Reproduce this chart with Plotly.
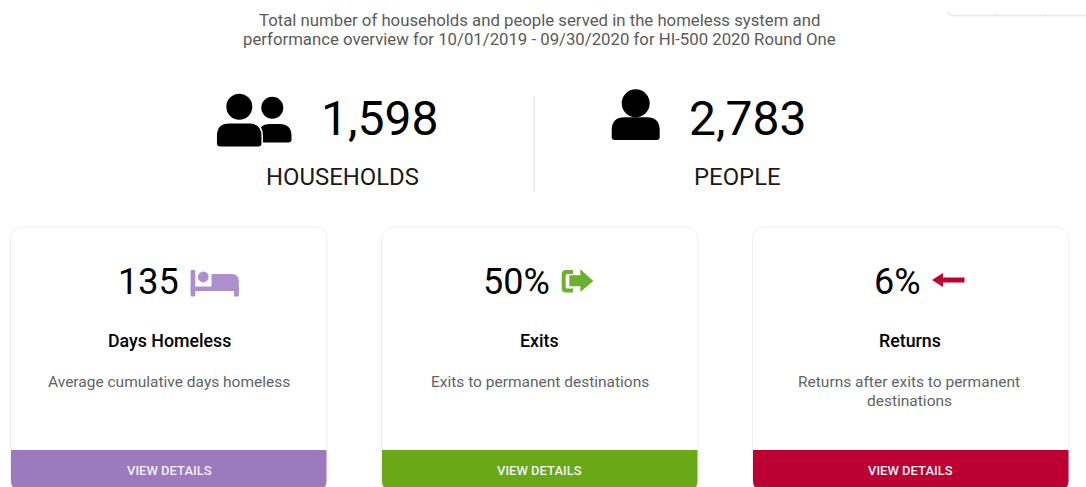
import plotly.graph_objects as go

W, H = 1086, 487
FONT = "Roboto"

subtitle_lines = [
    "Total number of households and people served in the homeless system and",
    "performance overview for 10/01/2019 - 09/30/2020 for HI-500 2020 Round One",
]
totals_values = ["1,598", "2,783"]
totals_labels = ["HOUSEHOLDS", "PEOPLE"]
card_values = ["135", "50%", "6%"]
card_titles = ["Days Homeless", "Exits", "Returns"]
card_descriptions = [
    ["Average cumulative days homeless"],
    ["Exits to permanent destinations"],
    ["Returns after exits to permanent", "destinations"],
]
card_colors = ["#9C7ABD", "#69A917", "#BD0032"]
icon_colors = ["#AC8FCC", "#6DB02F", "#BD0032"]
button_label = "VIEW DETAILS"


def rrect(x0, y0, x1, y1, tl=0, tr=0, br=0, bl=0):
    return (
        f"M{x0 + tl},{y0} L{x1 - tr},{y0} Q{x1},{y0} {x1},{y0 + tr} "
        f"L{x1},{y1 - br} Q{x1},{y1} {x1 - br},{y1} "
        f"L{x0 + bl},{y1} Q{x0},{y1} {x0},{y1 - bl} "
        f"L{x0},{y0 + tl} Q{x0},{y0} {x0 + tl},{y0} Z"
    )


shapes = []


def fill_path(p, color, line=None, lw=0):
    shapes.append(dict(type="path", path=p, fillcolor=color, xref="x", yref="y",
                       line=dict(color=line or color, width=lw)))


def disc(cx, cy, r, color):
    shapes.append(dict(type="circle", x0=cx - r, x1=cx + r, y0=cy - r, y1=cy + r,
                       fillcolor=color, line=dict(width=0), xref="x", yref="y"))


# corner fragment at top right
shapes.append(dict(type="path", path="M948,12 Q949,15.5 954,15.5 L1086,15.5",
                   line=dict(color="#E8E8EE", width=1.5), xref="x", yref="y"))
for tx in [997, 1046]:
    shapes.append(dict(type="line", x0=tx, x1=tx, y0=13, y1=15.5, xref="x", yref="y",
                       line=dict(color="#DDDDE3", width=1)))

# divider
shapes.append(dict(type="line", x0=534, x1=534, y0=96, y1=192, xref="x", yref="y",
                   line=dict(color="#EEEEEE", width=2)))

# households icon
disc(272.3, 107.7, 11, "#000")
fill_path(rrect(258, 124, 291.5, 142.5, tl=12, tr=12, br=3, bl=3), "#000")
disc(239.3, 106.7, 13, "#000")
fill_path(rrect(216.2, 122.8, 262.2, 147.2, tl=13, tr=13, br=4, bl=4), "#000", "#FFF", 1.5)
# person icon
disc(635.7, 103.3, 14, "#000")
fill_path(rrect(611.7, 117.3, 659.7, 140, tl=13, tr=13, br=3, bl=3), "#000")

# cards
card_x = [(10.5, 327), (381.5, 698), (752.5, 1069)]
for (x0, x1), col in zip(card_x, card_colors):
    fill_path(rrect(x0, 227, x1, 500, tl=13, tr=13), "#FFFFFF", "#EEEEEE", 1)
    fill_path(rrect(x0 + 0.5, 450, x1 - 0.5, 490, br=9, bl=9), col)

# bed icon
c = icon_colors[0]
fill_path(rrect(190.6, 270, 195.3, 296.5, tl=1, tr=1, br=1, bl=1), c)
disc(203.3, 277, 5.4, c)
fill_path(rrect(211.5, 274, 238.8, 291, tr=7, tl=1), c)
fill_path(rrect(190.6, 286.5, 238.8, 291), c)
fill_path(rrect(234, 286, 238.8, 296.5, br=1, bl=1), c)

# exit icon
c = icon_colors[1]
fill_path("M573,270 L566,270 Q561.7,270 561.7,274.5 L561.7,288 Q561.7,292.6 566,292.6 L573,292.6 "
          "L573,288.6 L567.5,288.6 Q565.7,288.6 565.7,287 L565.7,276 Q565.7,274 567.5,274 L573,274 Z", c)
fill_path("M569.3,275.3 L580.3,275.3 L580.3,269.3 L593.3,281 L580.3,292 L580.3,286.3 L569.3,286.3 Z", c)

# returns icon
c = icon_colors[2]
fill_path("M964.5,277.6 L943,277.6 L943,273 L932,280 L943,287 L943,282.4 L964.5,282.4 Z", c)

annotations = []


def text(x, y, s, size, color="#000", weight=400):
    annotations.append(dict(x=x, y=y, xref="x", yref="y", text=s, showarrow=False,
                            xanchor="center", yanchor="middle",
                            font=dict(family=FONT, size=size, color=color, weight=weight)))


text(539, 20, subtitle_lines[0], 16.75, "#5A5A5A")
text(539, 39, subtitle_lines[1], 16.75, "#5A5A5A")

text(379.5, 118.5, totals_values[0], 48)
text(747.5, 118.5, totals_values[1], 48)
text(342.5, 176.5, totals_labels[0], 23.9, "#1A1A1A")
text(737.5, 176.5, totals_labels[1], 23.9, "#1A1A1A")

value_x = [148.5, 516.5, 897]
centers = [169, 539.7, 910]
for i in range(3):
    text(value_x[i], 282, card_values[i], 36)
    text(centers[i], 340, card_titles[i], 17.8, "#000", 500)
    for j, line in enumerate(card_descriptions[i]):
        text(centers[i] - (0.7 if i == 2 else 0), 382 + 19 * j, line, 15.5, "#5F6368")
    text(centers[i], 470, button_label, 13, "#F3F0F8", 500)

fig = go.Figure()
fig.update_layout(
    width=W, height=H, margin=dict(l=0, r=0, t=0, b=0),
    paper_bgcolor="#FFFFFF", plot_bgcolor="#FFFFFF", showlegend=False,
    xaxis=dict(range=[0, W], visible=False, fixedrange=True),
    yaxis=dict(range=[H, 0], visible=False, fixedrange=True),
    shapes=shapes, annotations=annotations,
)
fig.write_html("out.html", config=dict(displayModeBar=False),
               post_script="document.body.style.margin='0';document.body.style.overflow='hidden';")
